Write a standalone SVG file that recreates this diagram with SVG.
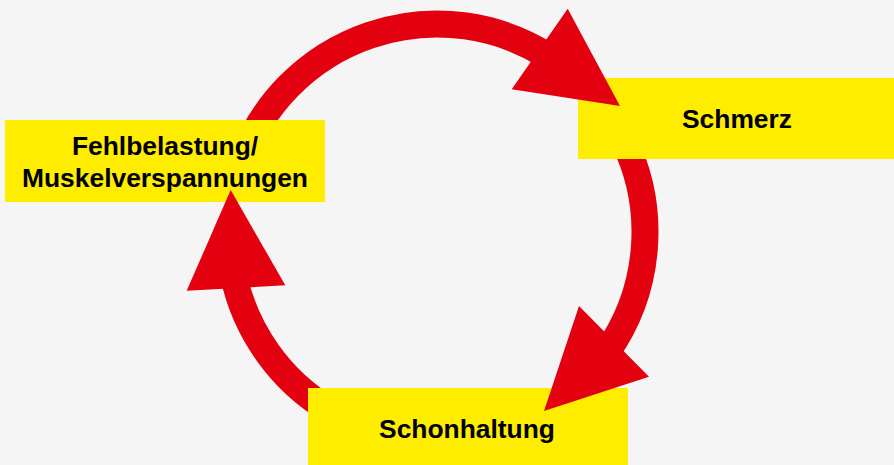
<svg xmlns="http://www.w3.org/2000/svg" width="894" height="465" viewBox="0 0 894 465">
  <style>
    .arc { fill: none; stroke: #e3000f; stroke-width: 27; }
    .head { fill: #e3000f; }
    .box { fill: #ffed00; }
    .lbl { font-family: "Liberation Sans", Arial, sans-serif; font-weight: bold; font-size: 26.4px; fill: #000; text-anchor: middle; }
  </style>
  <rect x="0" y="0" width="894" height="465" fill="#f5f5f5"/>
  <g id="connectors">
    <path class="arc" d="M 241.9 160 A 208 208 0 0 1 547.2 55.6"/>
    <path class="arc" d="M 623.5 140 A 208 208 0 0 1 607.4 351.3"/>
    <path class="arc" d="M 330 410.4 A 208 208 0 0 1 233.5 275.2"/>
  </g>
  <g id="node-fehlbelastung">
    <rect class="box" x="5" y="120" width="320" height="82"/>
    <text class="lbl" x="165" y="155">Fehlbelastung/</text>
    <text class="lbl" x="165" y="186.5">Muskelverspannungen</text>
  </g>
  <g id="node-schmerz">
    <rect class="box" x="578" y="78" width="316" height="81"/>
    <text class="lbl" x="737" y="128.3">Schmerz</text>
  </g>
  <g id="node-schonhaltung">
    <rect class="box" x="308" y="388" width="320" height="77"/>
    <text class="lbl" x="467" y="438">Schonhaltung</text>
  </g>
  <g id="arrowheads">
    <polygon class="head" points="567.7,8.7 620,106 511.7,89.3"/>
    <polygon class="head" points="579,306 649,376.7 544,411"/>
    <polygon class="head" points="230.7,190 285.3,285.3 186.7,290.7"/>
  </g>
</svg>
